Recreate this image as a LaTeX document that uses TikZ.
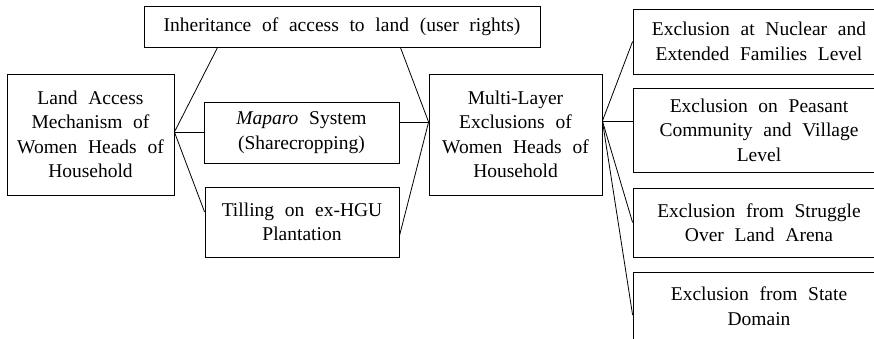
\documentclass[tikz,border=0pt]{standalone}
\usepackage{fontspec}
\setmainfont{Liberation Serif}
\usetikzlibrary{calc}
\newcommand\boxfont{\fontsize{19.5}{24.5}\selectfont\spaceskip=0.55em\relax}
\tikzset{
  box/.style={draw, line width=0.8pt, inner sep=0pt, align=center, font=\boxfont},
  link/.style={line width=0.8pt},
  rightbox/.style={box, minimum width=252pt}
}
\begin{document}
\begin{tikzpicture}[x=1pt, y=-1pt]
  \useasboundingbox (0,0) rectangle (874,338);
  \clip (0,0) rectangle (874,338);

  % left-hand mechanism and its three channels
  \node[box, minimum width=167pt, minimum height=121pt] (L) at (90.5,134.5)
    {Land Access\\Mechanism of\\Women Heads of\\Household};
  \node[box, minimum width=396pt, minimum height=41pt] (T) at (342,26.5)
    {Inheritance of access to land (user rights)};
  \node[box, minimum width=195pt, minimum height=61pt] (M) at (301.5,132.5)
    {\textit{Maparo} System\\(Sharecropping)};
  \node[box, minimum width=194pt, minimum height=70pt] (P) at (302,222)
    {Tilling on ex-HGU\\Plantation};

  % central node
  \node[box, minimum width=173pt, minimum height=121pt] (X) at (515.5,134.5)
    {Multi-Layer\\Exclusions of\\Women Heads of\\Household};

  % layers of exclusion
  \node[rightbox, minimum height=65pt] (R1) at (759,41.5)
    {Exclusion at Nuclear and\\Extended Families Level};
  \node[rightbox, minimum height=84pt] (R2) at (759,130)
    {Exclusion on Peasant\\Community and Village\\Level};
  \node[rightbox, minimum height=69pt] (R3) at (759,222.5)
    {Exclusion from Struggle\\Over Land Arena};
  \node[rightbox, minimum height=68pt] (R4) at (759,306)
    {Exclusion from State\\Domain};

  % junction points
  \coordinate (lh) at ($(L.east)+(0,-2.5)$);
  \coordinate (xin) at ($(X.west)+(0,-12.5)$);
  \coordinate (xout) at ($(X.east)+(0,-13.5)$);

  % connectors
  \draw[link] (lh) -- ($(T.south west)+(74,0)$);
  \draw[link] (lh) -- (M.west |- lh);
  \draw[link] (lh) -- ($(P.west)+(0,-10)$);

  \draw[link] ($(T.south east)+(-140,0)$) -- (xin);
  \draw[link] (M.east |- xin) -- (xin);
  \draw[link] ($(P.east)+(0,14)$) -- (xin);

  \draw[link] (xout) -- (R1.west);
  \draw[link] (xout) -- (R2.west |- xout);
  \draw[link] (xout) -- (R3.west);
  \draw[link] (xout) -- ($(R4.west)+(0,9)$);
\end{tikzpicture}
\end{document}
